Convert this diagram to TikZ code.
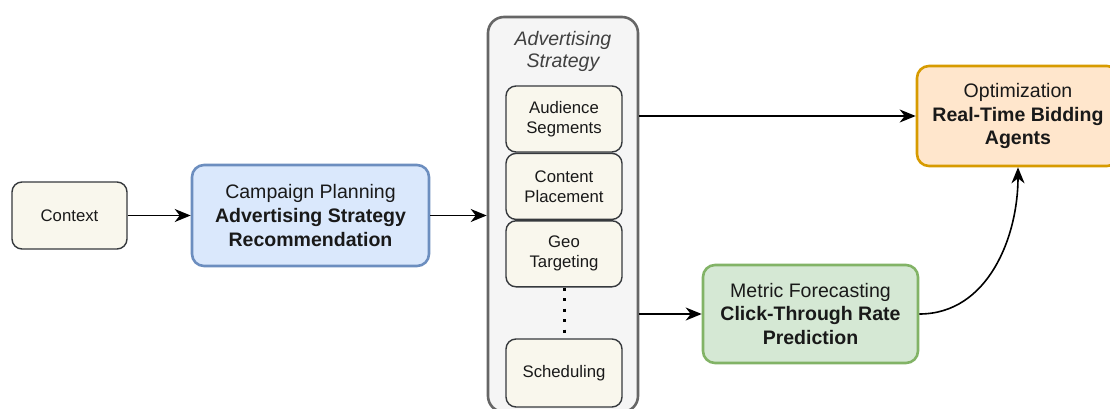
\documentclass[tikz,border=0pt]{standalone}
\usepackage{fontspec}
\setmainfont{Liberation Sans}
\usetikzlibrary{arrows.meta,positioning}

\definecolor{ctxfill}{HTML}{F9F7ED}
\definecolor{ctxline}{HTML}{36393D}
\definecolor{planfill}{HTML}{DAE8FC}
\definecolor{planline}{HTML}{6C8EBF}
\definecolor{optfill}{HTML}{FFE6CC}
\definecolor{optline}{HTML}{D79B00}
\definecolor{ctrfill}{HTML}{D5E8D4}
\definecolor{ctrline}{HTML}{82B366}
\definecolor{groupfill}{HTML}{F5F5F5}
\definecolor{groupline}{HTML}{666666}

\tikzset{
  box/.style={draw, rounded corners=10bp, align=center, inner sep=0pt},
  bigbox/.style={box, line width=2.6bp, rounded corners=12bp, text=black!90,
    font=\fontsize{19.6}{24}\selectfont},
  smallbox/.style={box, line width=1.4bp, draw=ctxline, fill=ctxfill, text=black!90,
    minimum width=116bp, minimum height=66bp, font=\fontsize{16.8}{20}\selectfont},
  arr/.style={-{Stealth[length=16bp,width=13bp,inset=5bp]}, line width=1.6bp},
}

\begin{document}
\begin{tikzpicture}[x=1bp,y=1bp]
  \useasboundingbox (0,0) rectangle (1110,408);

  \node[smallbox, minimum width=115bp, minimum height=67bp] (context) at (69.5,192.5) {Context};
  \node[bigbox, fill=planfill, draw=planline, minimum width=237bp, minimum height=101bp] (plan) at (310.5,192.5)
    {Campaign Planning\\\textbf{Advertising Strategy}\\\textbf{Recommendation}};

  % strategy group
  \node[draw=groupline, fill=groupfill, line width=2.6bp, rounded corners=16bp,
    minimum width=150bp, minimum height=395bp] (strategy) at (563,193.5) {};
  \node[align=center, text=black!75, font=\fontsize{19.6}{22}\selectfont\itshape] (title) at (563,357)
    {Advertising\\Strategy};
  \node[smallbox] (audience) at (564,289) {Audience\\Segments};
  \node[smallbox, below=0pt of audience] (content) {Content\\Placement};
  \node[smallbox, below=0pt of content] (geo) {Geo\\Targeting};
  \node[smallbox, minimum height=68bp] (sched) at (564,35) {Scheduling};
  \draw[line width=3bp, dash pattern=on 3bp off 7.5bp] (geo.south) -- (sched.north);

  \node[bigbox, fill=optfill, draw=optline, minimum width=202bp, minimum height=100bp] (optim) at (1018,292)
    {Optimization\\\textbf{Real-Time Bidding}\\\textbf{Agents}};
  \node[bigbox, fill=ctrfill, draw=ctrline, minimum width=215bp, minimum height=98bp] (metric) at (810.5,94)
    {Metric Forecasting\\\textbf{Click-Through Rate}\\\textbf{Prediction}};

  \draw[arr] (context) -- (plan);
  \draw[arr] (plan.east) -- (plan.east -| strategy.west);
  \draw[arr] (strategy.east |- optim) -- (optim);
  \draw[arr] (strategy.east |- metric) -- (metric);
  \draw[arr] (metric.east) to[out=0, in=-90] (optim.south);
\end{tikzpicture}
\end{document}
